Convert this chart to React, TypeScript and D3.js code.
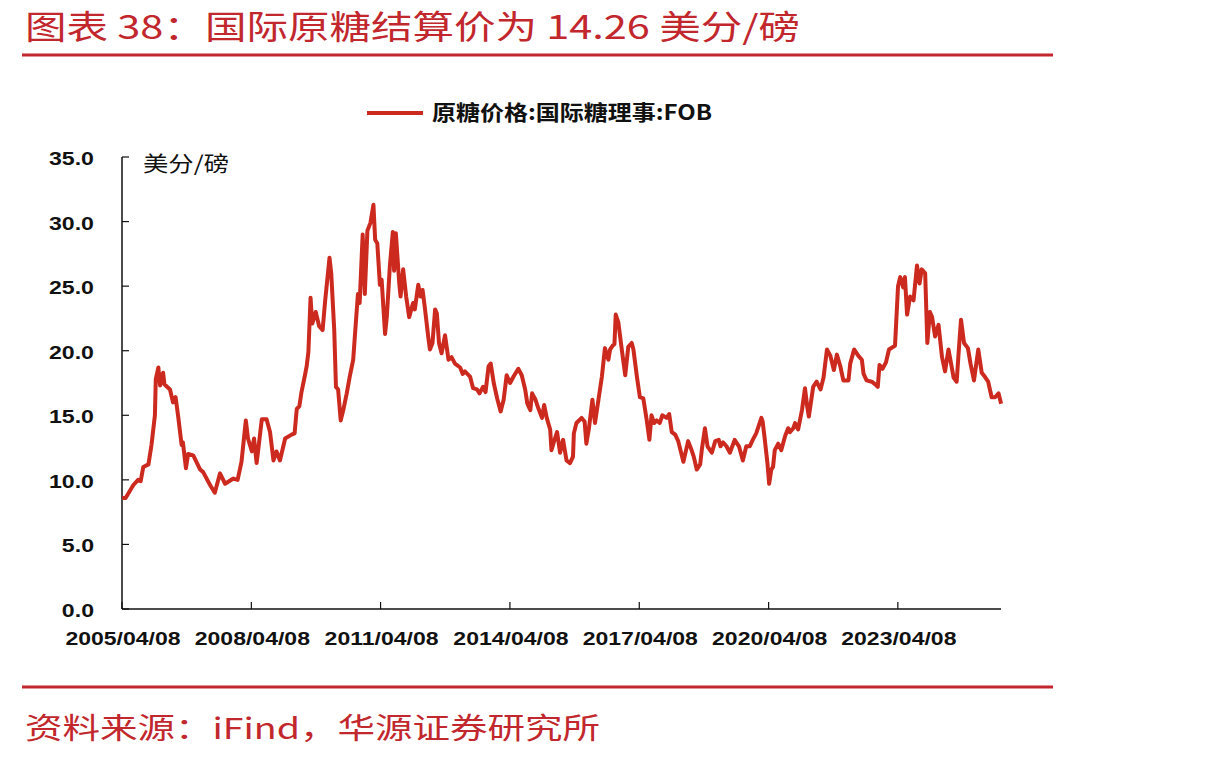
import React from "react";
import * as d3 from "d3";

const titleText = "图表 38：国际原糖结算价为 14.26 美分/磅";
const legendLabel = "原糖价格:国际糖理事:FOB";
const unitLabel = "美分/磅";
const sourceText = "资料来源：iFind，华源证券研究所";

const yTicks = [0, 5, 10, 15, 20, 25, 30, 35];
const xTickLabels = ["2005/04/08", "2008/04/08", "2011/04/08", "2014/04/08", "2017/04/08", "2020/04/08", "2023/04/08"];
const xStart = "2005/04/08";
const xEnd = "2025/08/29";

// time stamps in decimal years
const times = [
  2005.27, 2005.35, 2005.53, 2005.64, 2005.70, 2005.76, 2005.88, 2005.95, 2006.03, 2006.05,
  2006.11, 2006.15, 2006.22, 2006.25, 2006.38, 2006.45, 2006.51, 2006.57, 2006.65, 2006.68,
  2006.75, 2006.80, 2006.92, 2007.08, 2007.15, 2007.31, 2007.42, 2007.54, 2007.66, 2007.85,
  2007.95, 2008.04, 2008.14, 2008.19, 2008.28, 2008.33, 2008.39, 2008.43, 2008.51, 2008.62,
  2008.70, 2008.78, 2008.85, 2008.93, 2009.05, 2009.20, 2009.27, 2009.32, 2009.38, 2009.43,
  2009.51, 2009.55, 2009.59, 2009.64, 2009.68, 2009.76, 2009.84, 2009.92, 2009.98, 2010.08,
  2010.12, 2010.19, 2010.23, 2010.28, 2010.34, 2010.40, 2010.48, 2010.55, 2010.63, 2010.69,
  2010.74, 2010.78, 2010.85, 2010.90, 2010.96, 2011.03, 2011.10, 2011.14, 2011.19, 2011.25,
  2011.29, 2011.37, 2011.41, 2011.48, 2011.55, 2011.58, 2011.62, 2011.70, 2011.73, 2011.79,
  2011.86, 2011.93, 2012.02, 2012.06, 2012.14, 2012.19, 2012.24, 2012.29, 2012.37, 2012.41,
  2012.47, 2012.53, 2012.57, 2012.62, 2012.68, 2012.76, 2012.84, 2012.91, 2012.99, 2013.11,
  2013.17, 2013.22, 2013.34, 2013.41, 2013.50, 2013.56, 2013.64, 2013.70, 2013.77, 2013.82,
  2013.89, 2013.97, 2014.05, 2014.12, 2014.19, 2014.27, 2014.35, 2014.46, 2014.54, 2014.62,
  2014.67, 2014.74, 2014.78, 2014.86, 2014.93, 2015.01, 2015.06, 2015.12, 2015.20, 2015.23,
  2015.31, 2015.36, 2015.43, 2015.50, 2015.58, 2015.66, 2015.73, 2015.75, 2015.81, 2015.93,
  2016.00, 2016.04, 2016.10, 2016.18, 2016.24, 2016.32, 2016.40, 2016.47, 2016.55, 2016.59,
  2016.65, 2016.69, 2016.72, 2016.78, 2016.86, 2016.94, 2017.01, 2017.09, 2017.13, 2017.21,
  2017.28, 2017.36, 2017.44, 2017.50, 2017.55, 2017.61, 2017.67, 2017.74, 2017.80, 2017.90,
  2017.96, 2018.02, 2018.10, 2018.17, 2018.29, 2018.40, 2018.47, 2018.53, 2018.60, 2018.68,
  2018.72, 2018.79, 2018.85, 2018.95, 2019.03, 2019.11, 2019.15, 2019.21, 2019.29, 2019.37,
  2019.48, 2019.58, 2019.67, 2019.75, 2019.83, 2019.90, 2019.98, 2020.10, 2020.13, 2020.17,
  2020.24, 2020.28, 2020.33, 2020.37, 2020.41, 2020.49, 2020.56, 2020.65, 2020.72, 2020.76,
  2020.84, 2020.88, 2020.95, 2021.04, 2021.11, 2021.16, 2021.20, 2021.30, 2021.38, 2021.47,
  2021.54, 2021.62, 2021.70, 2021.78, 2021.85, 2021.93, 2022.00, 2022.12, 2022.16, 2022.25,
  2022.35, 2022.43, 2022.47, 2022.54, 2022.66, 2022.74, 2022.80, 2022.84, 2022.91, 2022.99,
  2023.06, 2023.16, 2023.20, 2023.27, 2023.32, 2023.39, 2023.43, 2023.48, 2023.55, 2023.63,
  2023.71, 2023.77, 2023.82, 2023.90, 2023.95, 2024.01, 2024.06, 2024.13, 2024.21, 2024.29,
  2024.36, 2024.44, 2024.50, 2024.56, 2024.63, 2024.68, 2024.73, 2024.80, 2024.89, 2024.95,
  2025.03, 2025.13, 2025.21, 2025.28, 2025.36, 2025.44, 2025.52, 2025.60, 2025.66,
];

// 原糖价格 (美分/磅)
const prices = [
  8.6, 8.6, 9.6, 10.0, 9.9, 11.0, 11.2, 12.7, 15.0, 17.8,
  18.7, 17.3, 18.3, 17.4, 17.0, 16.0, 16.4, 14.9, 12.7, 12.9,
  10.9, 12.0, 11.9, 10.8, 10.6, 9.6, 9.0, 10.5, 9.7, 10.1,
  10.0, 11.4, 14.6, 13.2, 12.2, 13.2, 11.3, 12.4, 14.7, 14.7,
  13.7, 11.5, 12.2, 11.5, 13.2, 13.5, 13.6, 15.5, 15.7, 16.8,
  18.1, 18.8, 19.9, 24.1, 22.1, 23.0, 21.9, 21.6, 23.9, 27.2,
  26.0, 21.6, 17.2, 17.0, 14.6, 15.4, 16.7, 18.0, 19.3, 22.1,
  24.4, 23.7, 29.0, 24.4, 29.3, 29.9, 31.3, 28.6, 28.3, 25.1,
  25.5, 21.3, 22.6, 26.5, 29.2, 26.2, 29.1, 25.2, 24.2, 26.3,
  24.2, 22.6, 23.7, 23.2, 25.1, 24.2, 24.7, 23.4, 21.1, 20.1,
  20.6, 23.2, 22.9, 20.6, 19.8, 21.2, 19.3, 19.5, 19.0, 18.7,
  18.2, 18.4, 18.0, 17.1, 17.0, 16.7, 17.2, 16.8, 18.8, 19.0,
  17.5, 16.3, 15.3, 16.2, 18.1, 17.5, 18.0, 18.6, 18.1, 17.0,
  15.9, 15.4, 16.7, 16.2, 15.5, 14.8, 15.8, 14.8, 13.9, 12.3,
  13.2, 13.7, 12.1, 13.1, 11.5, 11.3, 11.8, 13.6, 14.4, 14.8,
  14.5, 12.8, 14.0, 16.2, 14.4, 16.2, 18.0, 20.2, 19.3, 20.1,
  20.4, 20.5, 22.8, 22.2, 20.1, 18.1, 20.3, 20.6, 20.1, 18.0,
  16.4, 16.3, 14.6, 13.1, 15.0, 14.4, 14.6, 14.4, 15.0, 14.8,
  15.1, 13.7, 13.5, 13.0, 11.4, 13.0, 12.4, 11.8, 10.8, 11.2,
  12.4, 14.0, 12.6, 12.1, 13.0, 13.1, 12.6, 12.9, 12.6, 12.1,
  13.1, 12.6, 11.5, 12.6, 12.6, 13.1, 13.6, 14.8, 14.5, 13.4,
  11.3, 9.7, 10.8, 11.0, 12.3, 12.8, 12.3, 13.4, 14.0, 13.7,
  14.0, 14.4, 13.9, 15.4, 17.1, 15.7, 14.9, 17.2, 17.6, 17.0,
  17.9, 20.1, 19.6, 18.5, 19.7, 18.8, 17.7, 17.7, 19.0, 20.1,
  19.6, 19.3, 18.2, 17.7, 17.6, 17.4, 17.2, 18.9, 18.6, 19.1,
  20.1, 20.3, 20.4, 25.0, 25.7, 24.9, 25.7, 22.8, 24.2, 23.9,
  26.6, 25.2, 26.3, 26.0, 20.6, 23.0, 22.6, 21.1, 22.0, 19.5,
  18.4, 20.1, 19.0, 17.9, 17.6, 20.1, 22.4, 20.6, 20.2, 19.0,
  17.7, 20.1, 18.3, 18.0, 17.6, 16.4, 16.4, 16.7, 15.9,
];

const RED = "#c1272d";
const LINE_RED = "#cc2a1f";

const toDate = (y: number) => {
  const yr = Math.floor(y);
  const s = new Date(yr, 0, 1).getTime();
  const e = new Date(yr + 1, 0, 1).getTime();
  return new Date(s + (y - yr) * (e - s));
};
const parse = d3.timeParse("%Y/%m/%d");

export default function App() {
  const left = 122, right = 1001, top = 157, bottom = 609;
  const x = d3.scaleTime().domain([parse(xStart)!, parse(xEnd)!]).range([left, right]);
  const y = d3.scaleLinear().domain([0, 35]).range([bottom, top]);
  const data = times.map((t, i) => ({ d: toDate(t), v: prices[i] }));
  const line = d3.line<{ d: Date; v: number }>().x((p) => x(p.d)).y((p) => y(p.v));
  const numFont = "'Liberation Sans', Arial, sans-serif";
  const cjkFont = "'Noto Sans CJK SC', sans-serif";

  return (
    <svg width={1210} height={760} style={{ position: "absolute", left: 0, top: 0, background: "#fff" }}>
      <text x={25} y={39} fontFamily={cjkFont} fontSize={33} fill={RED} textLength={775} lengthAdjust="spacingAndGlyphs">
        {titleText}
      </text>
      <line x1={22} x2={1053} y1={55} y2={55} stroke={RED} strokeWidth={3} />

      <line x1={367} x2={423} y1={113} y2={113} stroke={LINE_RED} strokeWidth={4} />
      <text x={432} y={120} fontFamily={cjkFont} fontWeight="bold" fontSize={21} fill="#111" textLength={280} lengthAdjust="spacingAndGlyphs">
        {legendLabel}
      </text>

      <text x={143} y={171} fontFamily={cjkFont} fontSize={21} fill="#111" textLength={86} lengthAdjust="spacingAndGlyphs">
        {unitLabel}
      </text>

      {yTicks.map((t) => (
        <g key={t}>
          <line x1={left} x2={left + 7} y1={y(t)} y2={y(t)} stroke="#111" strokeWidth={1.2} />
          <text transform={`translate(94,${y(t) + 8}) scale(1.25,1)`} textAnchor="end" fontFamily={numFont}
            fontWeight="bold" fontSize={18.5} fill="#111">
            {t.toFixed(1)}
          </text>
        </g>
      ))}

      {xTickLabels.map((lab) => {
        const xp = x(parse(lab)!);
        return (
          <g key={lab}>
            <line x1={xp} x2={xp} y1={bottom} y2={bottom - 7} stroke="#111" strokeWidth={1.2} />
            <text transform={`translate(${xp + 1},645) scale(1.28,1)`} textAnchor="middle" fontFamily={numFont}
              fontWeight="bold" fontSize={18} fill="#111">
              {lab}
            </text>
          </g>
        );
      })}

      <line x1={left} x2={left} y1={top} y2={bottom} stroke="#111" strokeWidth={1.5} />
      <line x1={left} x2={right} y1={bottom} y2={bottom} stroke="#111" strokeWidth={1.5} />

      <path d={line(data) || ""} fill="none" stroke={LINE_RED} strokeWidth={4} strokeLinejoin="round" />

      <line x1={22} x2={1053} y1={687} y2={687} stroke={RED} strokeWidth={3} />
      <text x={25} y={739} fontFamily={cjkFont} fontSize={29} fill={RED} textLength={575} lengthAdjust="spacingAndGlyphs">
        {sourceText}
      </text>
    </svg>
  );
}
